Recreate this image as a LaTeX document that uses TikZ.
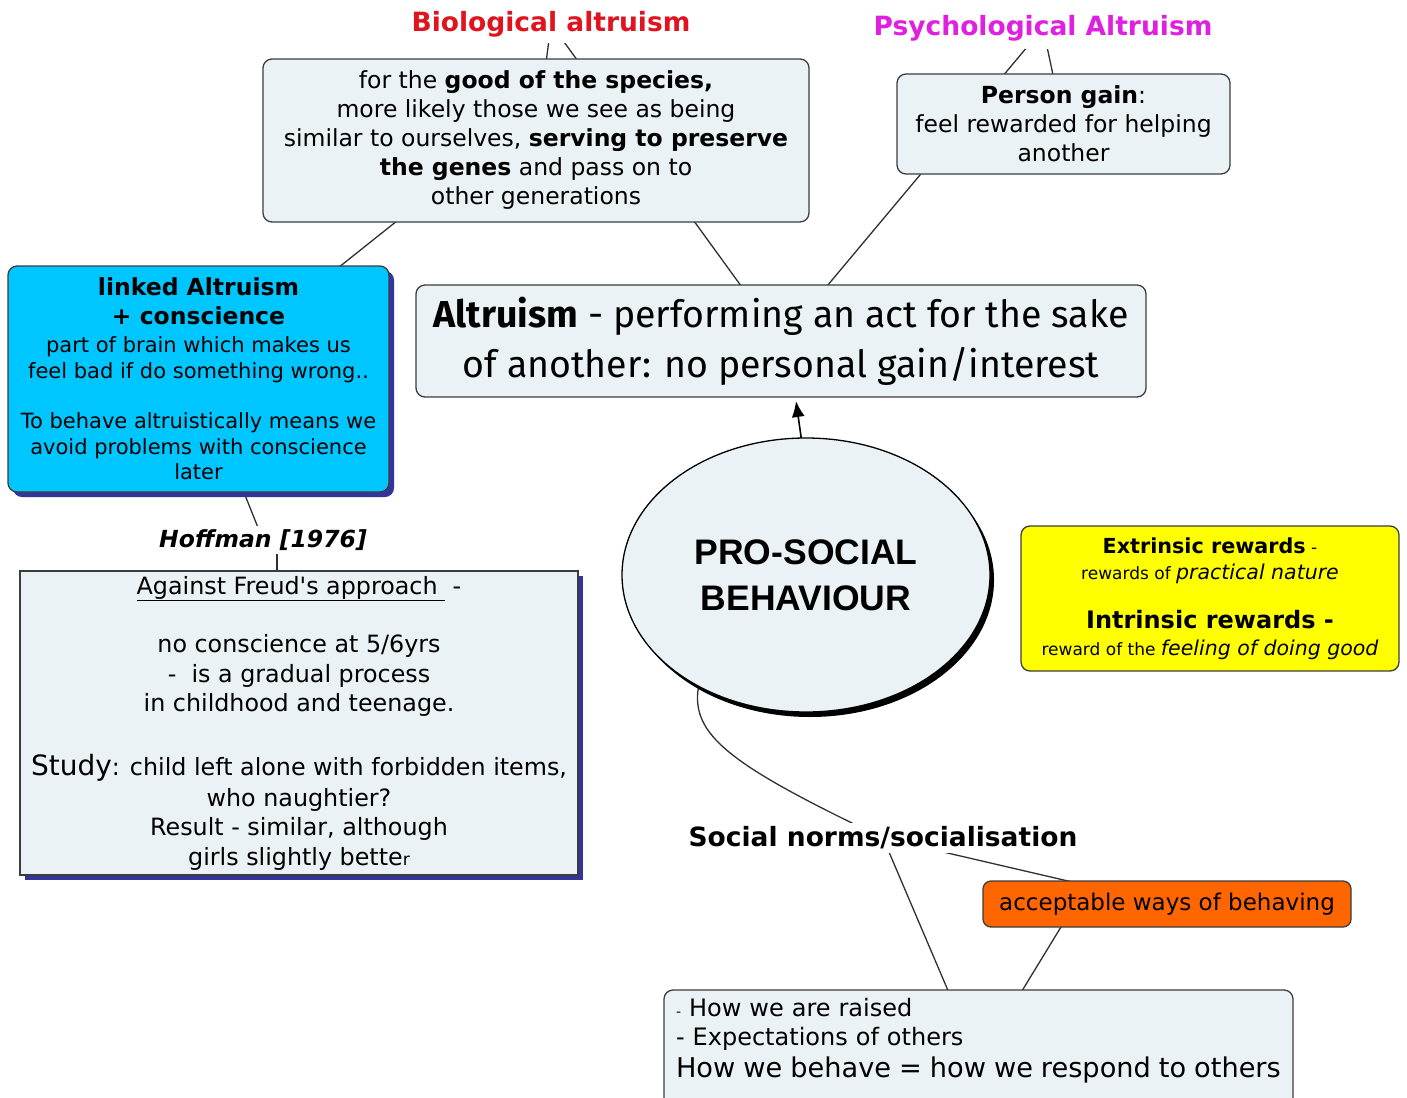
\documentclass[tikz,border=0pt]{standalone}
\usepackage{fontspec}
\setmainfont{DejaVu Sans}[Ligatures=TeXOff]
\newfontfamily\comicf{Fira Sans}
\newfontfamily\arialf{Liberation Sans}
\usetikzlibrary{shadows,backgrounds,arrows.meta,shapes.geometric,calc}
\definecolor{boxfill}{HTML}{EBF2F5}
\definecolor{edgegray}{HTML}{3C3C3C}
\definecolor{linkgray}{HTML}{303030}
\definecolor{biored}{HTML}{E0141E}
\definecolor{psymag}{HTML}{E020E0}
\definecolor{cyanfill}{HTML}{00C6FF}
\definecolor{shadowblue}{HTML}{34349C}
\definecolor{orangefill}{HTML}{FF6600}
\definecolor{rewyellow}{HTML}{FFFF00}
\begin{document}
\begin{tikzpicture}[x=1pt,y=-1pt]
\tikzset{
  every node/.style={inner sep=0pt, outer sep=0pt, text=black},
  cbox/.style={draw=edgegray, line width=1.3pt, rounded corners=9pt, fill=boxfill, align=center},
  tlabel/.style={fill=white, inner xsep=4pt, inner ysep=6pt, font=\bfseries\fontsize{26.5}{30}\selectfont},
  link/.style={draw=linkgray, line width=1.3pt},
  blueshadow/.style={drop shadow={shadow xshift=5pt, shadow yshift=-5pt, fill=shadowblue, opacity=1}},
}
\useasboundingbox (0,0) rectangle (1407,1097);

\node[tlabel, text=biored] (biolab) at (551,24) {Biological altruism};
\node[tlabel, text=psymag, inner ysep=8pt] (psylab) at (1043,28) {Psychological Altruism};

\node[cbox, minimum width=546pt, minimum height=163pt, font=\fontsize{23.5}{29}\selectfont] (bio) at (536,140.5)
 {for the \textbf{good of the species,}\\ more likely those we see as being\\ similar to ourselves, \textbf{serving to preserve}\\ \textbf{the genes} and pass on to\\ other generations};

\node[cbox, minimum width=333pt, minimum height=100pt, font=\fontsize{23.5}{29}\selectfont] (gain) at (1063.5,124)
 {\textbf{Person gain}:\\ feel rewarded for helping\\ another};

\node[cbox, fill=cyanfill, blueshadow, minimum width=381pt, minimum height=226pt, font=\fontsize{21}{25.5}\selectfont] (linked) at (198.5,379)
 {\textbf{\fontsize{23.5}{29}\selectfont linked Altruism}\\[3.5pt]
  \textbf{\fontsize{23.5}{29}\selectfont + conscience}\\[2.5pt]
  part of brain which makes us\\ feel bad if do something wrong..\\[25pt]
  To behave altruistically means we\\ avoid problems with conscience\\ later};

\node[cbox, minimum width=730pt, minimum height=112pt, font=\comicf\fontsize{37.5}{50}\selectfont] (alt) at (781,341)
 {\textbf{Altruism} - performing an act for the sake\\ of another: no personal gain/interest};

\node[ellipse, draw=black, line width=1.3pt, fill=boxfill, minimum width=368pt, minimum height=274pt,
  drop shadow={shadow xshift=4pt, shadow yshift=-5pt, fill=black, opacity=1},
  align=center, font=\arialf\bfseries\fontsize{35.5}{46}\selectfont] (ps) at (806,575) {PRO-SOCIAL\\ BEHAVIOUR};

\node[cbox, fill=rewyellow, minimum width=378pt, minimum height=145pt, font=\fontsize{17}{26}\selectfont] (rew) at (1210,598.5)
 {{\bfseries\fontsize{20.7}{26}\selectfont Extrinsic rewards} -\\
  rewards of {\itshape\fontsize{20.5}{26}\selectfont practical nature}\\[23pt]
  {\bfseries\fontsize{24}{26}\selectfont Intrinsic rewards -}\\[1pt]
  reward of the {\itshape\fontsize{20.5}{26}\selectfont feeling of doing good}};

\node[fill=white, inner xsep=3pt, inner ysep=4pt, font=\bfseries\itshape\fontsize{23.5}{28}\selectfont] (hoff) at (263,540) {Hoffman [1976]};

\node[draw=edgegray, line width=1.3pt, fill=boxfill, blueshadow, align=center, minimum width=558pt, minimum height=304pt,
  font=\fontsize{23.8}{29.3}\selectfont] (freud) at (299,723)
 {\underline{Against Freud's approach } -\\[29.3pt]
  no conscience at 5/6yrs\\ -\ \ is a gradual process\\ in childhood and teenage.\\[35pt]
  {\fontsize{28}{29}\selectfont Study}: child left alone with forbidden items,\\[1.5pt]
  who naughtier?\\ Result - similar, although\\ girls slightly bette{\fontsize{17}{20}\selectfont r}};

\node[fill=white, inner xsep=3pt, inner ysep=4pt, font=\bfseries\fontsize{26.5}{30}\selectfont] (soc) at (883,838) {Social norms/socialisation};

\node[cbox, fill=orangefill, rounded corners=8pt, minimum width=368pt, minimum height=46pt, font=\fontsize{23}{28}\selectfont] (acc) at (1167,904) {acceptable ways of behaving};

\node[cbox, anchor=north west, align=left, text width=605pt, inner xsep=12pt, inner ysep=8pt, font=\fontsize{24}{29}\selectfont] (raise) at (664,990)
 {{\fontsize{14}{29}\selectfont -} How we are raised\\ - Expectations of others\\[3pt]
  {\fontsize{27.2}{29}\selectfont How we behave = how we respond to others}\\[20pt] \mbox{}};

\begin{scope}[on background layer]
\fill[white] (0,0) rectangle (1407,1097);
\draw[link] (biolab.center) -- (bio.center);
\draw[link] (biolab.center) -- (alt.center);
\draw[link] (psylab.center) -- (gain.center);
\draw[link] (psylab.center) -- (alt.center);
\draw[link] (linked.center) -- ($(bio.center)+(-38,0)$);
\draw[link] (linked.center) -- (hoff.center);
\draw[link] ($(hoff.center)+(14,0)$) -- ($(hoff.center |- freud.center)+(14,0)$);
\draw[link] (ps.226) .. controls (690,735) and (730,765) .. (soc.center);
\draw[link] (soc.center) -- (raise.center);
\draw[link] (soc.center) -- (acc.center);
\draw[link] ($(acc.center)+(-92,0)$) -- (raise.center);
\end{scope}
\draw[draw=black, line width=1.6pt, -{Latex[length=16pt,width=13pt]}] (ps.92) -- ($(alt.south)+(15,4)$);
\end{tikzpicture}
\end{document}
